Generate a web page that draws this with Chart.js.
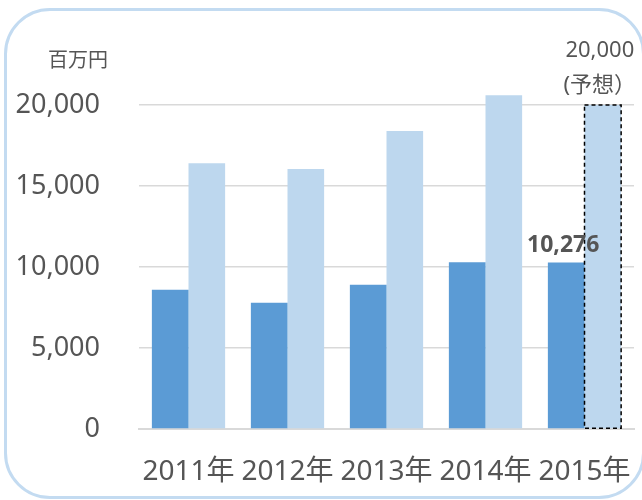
<!DOCTYPE html>
<html>
<head>
<meta charset="utf-8">
<script src="https://cdn.jsdelivr.net/npm/chart.js@4/dist/chart.umd.min.js"></script>
<style>
  html, body { margin: 0; padding: 0; background: #fff; }
  #wrap { position: relative; width: 642px; height: 500px; overflow: hidden; }
  #frame {
    position: absolute; left: 4px; top: 8px; width: 635px; height: 485px;
    border: 3px solid #c3dbf1; border-radius: 46px;
  }
  canvas { position: absolute; left: 0; top: 0; }
</style>
</head>
<body>
<div id="wrap">
  <div id="frame"></div>
  <canvas id="salesChart" width="642" height="500"></canvas>
</div>
<script>
const years = ['2011年', '2012年', '2013年', '2014年', '2015年'];
const seriesA = [8600, 7800, 8900, 10300, 10276];
const seriesB = [16400, 16050, 18400, 20600, 20000];
const unitLabel = '百万円';
const forecastNote = '(予想）';
const forecastIndex = 4;

const textColor = '#555555';
const fontFamily = '"Noto Sans", "Noto Sans CJK JP", sans-serif';

// value labels + dashed outline on the forecast bar
const barNotes = {
  id: 'barNotes',
  afterDatasetsDraw(chart) {
    const ctx = chart.ctx;
    const a = chart.getDatasetMeta(0).data[forecastIndex];
    const b = chart.getDatasetMeta(1).data[forecastIndex];
    ctx.save();

    ctx.strokeStyle = '#000';
    ctx.lineWidth = 1.5;
    ctx.setLineDash([4, 3]);
    ctx.strokeRect(b.x - b.width / 2, b.y, b.width, b.base - b.y);
    ctx.setLineDash([]);

    ctx.fillStyle = textColor;
    ctx.textAlign = 'center';
    ctx.textBaseline = 'middle';
    ctx.font = 'bold 23px ' + fontFamily;
    ctx.fillText(seriesA[forecastIndex].toLocaleString('en-US'), a.x - 3, a.y - 17);

    ctx.font = '22px ' + fontFamily;
    ctx.fillText(seriesB[forecastIndex].toLocaleString('en-US'), b.x - 3, b.y - 54);
    ctx.fillText(forecastNote, b.x - 3, b.y - 19);

    // unit caption above the y axis
    ctx.font = '20px ' + fontFamily;
    ctx.fillText(unitLabel, 78, 61);
    ctx.restore();
  }
};

new Chart(document.getElementById('salesChart'), {
  type: 'bar',
  data: {
    labels: years,
    datasets: [
      {
        data: seriesA,
        backgroundColor: '#5b9bd5',
        barPercentage: 1,
        categoryPercentage: 0.74,
        clip: false,
      },
      {
        data: seriesB,
        backgroundColor: '#bdd7ee',
        barPercentage: 1,
        categoryPercentage: 0.74,
        clip: false,
      },
    ],
  },
  options: {
    responsive: false,
    animation: false,
    layout: { padding: { top: 105, right: 8, bottom: 14, left: 0 } },
    plugins: {
      legend: { display: false },
      tooltip: { enabled: false },
    },
    scales: {
      x: {
        grid: { display: false, drawTicks: false },
        border: { color: '#d9d9d9', width: 2 },
        ticks: {
          color: textColor,
          font: { family: fontFamily, size: 28 },
          padding: 26,
          autoSkip: false,
          maxRotation: 0,
          minRotation: 0,
        },
        afterFit(scale) {
          scale.height = 57;
          scale.paddingLeft = 0;
          scale.paddingRight = 0;
        },
      },
      y: {
        min: 0,
        max: 20000,
        grid: { color: '#d9d9d9', lineWidth: 1.5, drawTicks: false },
        border: { display: false },
        ticks: {
          stepSize: 5000,
          color: textColor,
          font: { family: fontFamily, size: 27 },
          padding: 39,
        },
        afterFit(scale) { scale.width = 139; },
      },
    },
  },
  plugins: [barNotes],
});
</script>
</body>
</html>
